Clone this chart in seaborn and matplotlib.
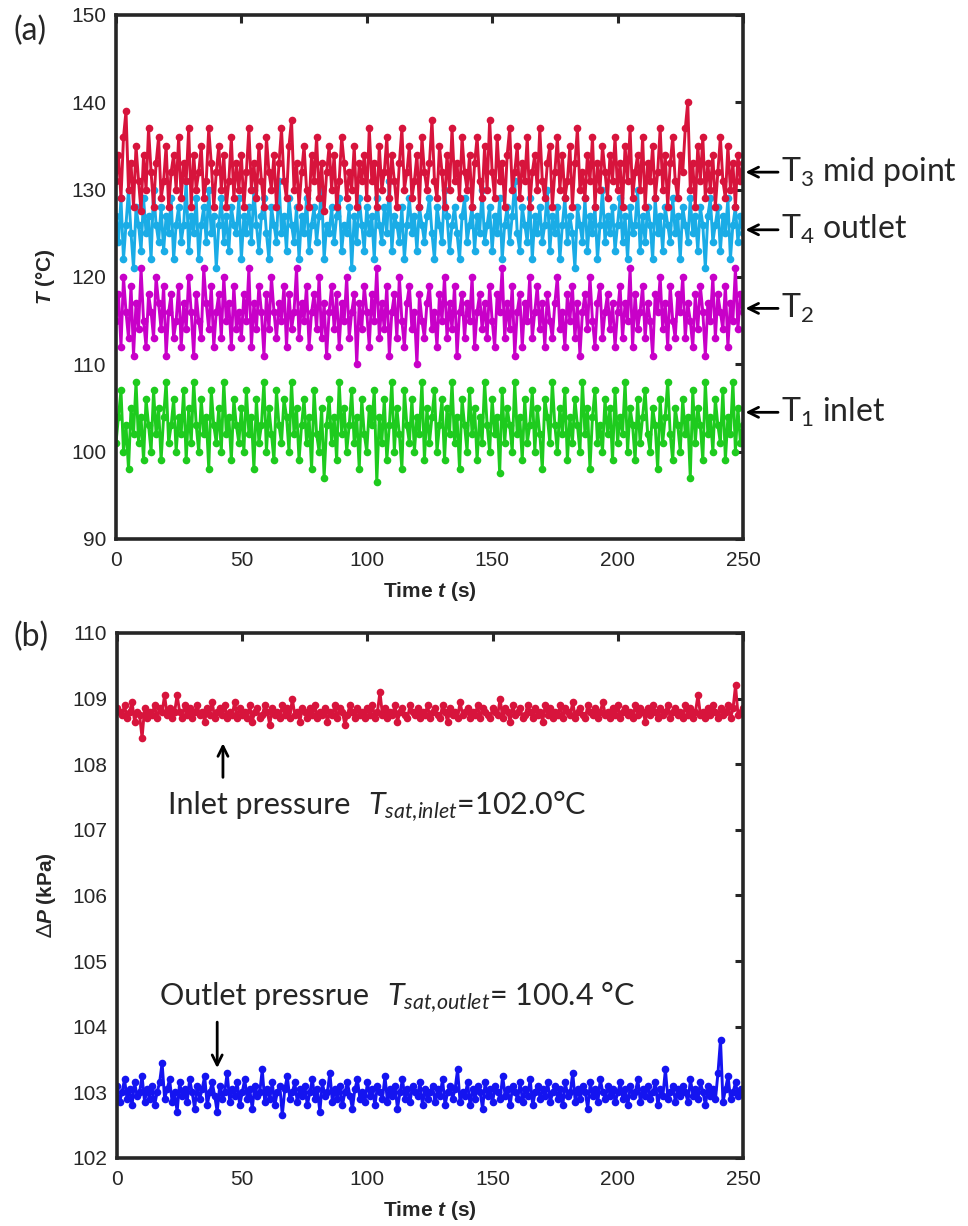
import numpy as np
import pandas as pd
import seaborn as sns
import matplotlib.pyplot as plt

# ---- data (1 sample per second) ----
t3_mid = [
    131, 134, 129, 136, 139, 130, 133, 128, 135, 131, 127.5, 134, 130, 137, 132, 128, 133, 136, 129, 131, 135, 128, 132, 134, 130,
    136, 129, 133, 131, 137, 128, 134, 130, 132, 135, 129, 131, 137, 133, 128, 132, 135, 130, 134, 128, 131, 136, 129, 133, 130,
    134, 128, 132, 137, 130, 133, 129, 135, 131, 128, 136, 132, 130, 134, 128, 133, 137, 131, 129, 135, 138, 130, 133, 128, 132,
    135, 130, 128, 134, 131, 136, 129, 133, 127.5, 132, 135, 130, 134, 128, 131, 136, 133, 129, 132, 130, 135, 128, 133, 131, 134,
    129, 137, 131, 133, 128, 135, 130, 132, 136, 129, 134, 131, 128, 133, 137, 130, 132, 135, 129, 131, 134, 128, 136, 132, 130,
    133, 138, 131, 129, 135, 132, 128, 134, 130, 137, 131, 133, 129, 136, 132, 130, 134, 128, 133, 136, 131, 129, 135, 130, 138,
    132, 129, 136, 131, 133, 128, 134, 137, 130, 132, 135, 129, 133, 131, 136, 128, 132, 134, 130, 137, 131, 129, 133, 135, 128,
    132, 136, 130, 134, 129, 131, 135, 128, 133, 137, 130, 132, 129, 134, 131, 136, 128, 133, 130, 135, 132, 129, 134, 131, 136,
    130, 133, 128, 135, 131, 137, 129, 132, 134, 130, 136, 128, 133, 131, 135, 129, 132, 137, 130, 134, 128, 133, 136, 131, 129,
    134, 132, 137, 140, 130, 133, 128, 135, 131, 136, 129, 133, 130, 134, 128, 132, 136, 131, 129, 135, 130, 133, 128, 134, 131,
    133,
]
t4_outlet = [
    127, 124, 129, 122, 126, 130, 125, 121, 128, 126, 123, 129, 125, 127, 122, 130, 126, 124, 128, 123, 127, 125, 129, 122, 126,
    128, 124, 126, 131, 123, 127, 125, 129, 122, 126, 128, 124, 130, 125, 127, 121, 126, 129, 124, 127, 123, 128, 126, 125, 129,
    122, 127, 125, 128, 124, 130, 126, 123, 127, 129, 125, 122, 128, 126, 124, 131, 125, 127, 123, 129, 126, 124, 128, 122, 127,
    125, 129, 123, 126, 128, 124, 127, 130, 122, 126, 125, 128, 124, 127, 129, 123, 126, 125, 128, 121, 127, 124, 129, 126, 123,
    128, 125, 127, 122, 129, 126, 124, 128, 125, 131, 123, 127, 126, 124, 128, 122, 126, 129, 125, 127, 123, 128, 126, 124, 127,
    129, 125, 122, 128, 126, 124, 130, 127, 123, 126, 128, 125, 122, 127, 129, 124, 126, 128, 123, 127, 125, 130, 124, 126, 128,
    123, 127, 125, 129, 122, 126, 128, 124, 127, 131, 125, 123, 128, 126, 124, 129, 122, 127, 125, 128, 124, 126, 130, 123, 127,
    125, 128, 122, 126, 129, 124, 127, 125, 121, 128, 126, 124, 129, 123, 127, 125, 128, 122, 126, 130, 124, 127, 125, 128, 123,
    126, 129, 124, 127, 122, 128, 125, 126, 130, 123, 127, 124, 128, 126, 122, 129, 125, 127, 123, 128, 126, 124, 129, 125, 127,
    122, 128, 126, 124, 129, 125, 127, 123, 128, 126, 121, 127, 129, 124, 126, 128, 123, 127, 125, 129, 122, 126, 128, 124, 127,
    125,
]
t2 = [
    115, 118, 112, 120, 116, 113, 119, 111, 117, 114, 121, 115, 112, 118, 116, 113, 120, 117, 114, 119, 111, 116, 118, 113, 115,
    119, 112, 117, 114, 120, 116, 111, 118, 115, 113, 121, 117, 114, 119, 112, 116, 118, 113, 120, 115, 117, 112, 119, 114, 116,
    113, 118, 115, 121, 112, 117, 114, 119, 116, 111, 118, 114, 120, 116, 113, 117, 115, 119, 112, 118, 114, 116, 121, 113, 117,
    115, 119, 112, 116, 118, 114, 120, 113, 117, 111, 116, 119, 114, 118, 112, 117, 115, 120, 113, 116, 118, 110, 117, 114, 119,
    116, 112, 118, 115, 121, 113, 117, 114, 119, 111, 116, 118, 113, 120, 115, 112, 117, 119, 114, 116, 110, 118, 115, 113, 117,
    119, 114, 116, 112, 118, 115, 120, 113, 117, 114, 119, 111, 116, 118, 113, 117, 115, 120, 112, 116, 118, 114, 117, 113, 119,
    115, 112, 118, 116, 121, 113, 117, 114, 119, 111, 116, 118, 112, 117, 115, 120, 113, 116, 119, 114, 117, 112, 118, 115, 113,
    117, 120, 114, 116, 112, 118, 115, 119, 113, 117, 111, 116, 118, 114, 120, 115, 112, 117, 119, 113, 116, 118, 114, 117, 112,
    116, 119, 113, 117, 115, 121, 112, 118, 114, 116, 119, 113, 117, 115, 111, 118, 116, 120, 114, 117, 112, 119, 115, 113, 118,
    116, 120, 113, 117, 115, 112, 118, 114, 119, 116, 111, 117, 115, 120, 113, 118, 116, 114, 119, 112, 117, 115, 121, 114, 118,
    116,
]
t1_inlet = [
    101, 104, 107, 100, 103, 98, 105, 102, 108, 101, 104, 99, 106, 103, 100, 107, 102, 105, 99, 104, 108, 101, 103, 106, 100,
    104, 102, 107, 99, 105, 101, 108, 103, 100, 106, 102, 104, 98, 107, 103, 101, 105, 100, 108, 102, 104, 99, 106, 103, 101,
    105, 100, 107, 102, 104, 98, 106, 101, 103, 108, 100, 105, 102, 99, 107, 103, 101, 106, 104, 100, 108, 102, 105, 99, 103,
    106, 101, 104, 98, 107, 102, 100, 105, 97, 103, 106, 101, 104, 99, 108, 102, 105, 100, 103, 107, 101, 104, 98, 106, 102,
    100, 105, 103, 107, 96.5, 104, 101, 106, 99, 103, 108, 100, 105, 102, 98, 107, 103, 101, 106, 100, 104, 102, 108, 99, 105,
    101, 104, 107, 100, 103, 106, 99, 105, 102, 108, 101, 104, 98, 106, 103, 100, 107, 102, 105, 99, 104, 101, 108, 103, 100,
    106, 102, 104, 97.5, 107, 101, 105, 103, 100, 108, 102, 104, 99, 106, 101, 103, 107, 100, 105, 102, 98, 106, 104, 101, 108,
    103, 100, 105, 102, 107, 99, 104, 101, 106, 103, 100, 108, 102, 105, 98, 104, 107, 101, 103, 100, 106, 102, 105, 99, 107,
    101, 104, 102, 108, 100, 105, 103, 99, 106, 101, 104, 107, 102, 100, 105, 103, 98, 106, 101, 104, 108, 102, 99, 105, 103,
    100, 106, 102, 104, 97, 107, 101, 105, 103, 99, 108, 102, 104, 100, 106, 103, 101, 107, 99, 104, 102, 108, 100, 105, 101,
    103,
]
p_inlet = [
    108.85, 108.80, 108.75, 108.90, 108.70, 108.80, 108.95, 108.65, 108.80, 108.75, 108.40, 108.85, 108.70, 108.80, 108.75, 108.90, 108.70, 108.85, 108.80, 109.05, 108.75, 108.85, 108.70, 108.80, 109.05,
    108.80, 108.70, 108.90, 108.75, 108.85, 108.70, 108.80, 108.90, 108.75, 108.80, 108.65, 108.85, 108.75, 108.95, 108.70, 108.80, 108.85, 108.75, 108.90, 108.70, 108.80, 108.75, 108.95, 108.70, 108.85,
    108.75, 108.80, 108.70, 108.90, 108.65, 108.80, 108.85, 108.70, 108.75, 108.90, 108.80, 108.60, 108.85, 108.75, 108.80, 108.70, 108.90, 108.75, 108.85, 108.70, 109.00, 108.75, 108.80, 108.65, 108.85,
    108.80, 108.70, 108.85, 108.75, 108.90, 108.70, 108.80, 108.75, 108.85, 108.65, 108.80, 108.75, 108.90, 108.70, 108.85, 108.80, 108.60, 108.75, 108.90, 108.80, 108.70, 108.85, 108.75, 108.80, 108.70,
    108.85, 108.75, 108.90, 108.70, 108.80, 109.10, 108.75, 108.85, 108.70, 108.80, 108.75, 108.90, 108.65, 108.80, 108.85, 108.75, 108.70, 108.90, 108.80, 108.75, 108.85, 108.70, 108.80, 108.75, 108.90,
    108.70, 108.80, 108.85, 108.75, 108.70, 108.90, 108.80, 108.65, 108.85, 108.75, 108.80, 108.70, 108.95, 108.75, 108.80, 108.85, 108.70, 108.80, 108.75, 108.90, 108.70, 108.85, 108.80, 108.75, 108.70,
    108.85, 108.80, 108.75, 109.00, 108.70, 108.85, 108.80, 108.65, 108.90, 108.75, 108.80, 108.85, 108.70, 108.75, 108.90, 108.80, 108.70, 108.85, 108.75, 108.80, 108.65, 108.90, 108.75, 108.85, 108.70,
    108.80, 108.75, 108.90, 108.70, 108.85, 108.80, 108.75, 108.95, 108.70, 108.80, 108.85, 108.75, 108.70, 108.90, 108.80, 108.75, 108.85, 108.70, 108.80, 108.95, 108.75, 108.80, 108.70, 108.85, 108.75,
    108.90, 108.70, 108.80, 108.85, 108.75, 108.80, 108.70, 108.90, 108.75, 108.85, 108.80, 108.65, 108.85, 108.75, 108.90, 108.80, 108.70, 108.85, 108.75, 108.80, 108.90, 108.70, 108.80, 108.85, 108.75,
    108.80, 108.70, 108.90, 108.75, 108.85, 108.70, 108.80, 109.05, 108.75, 108.80, 108.70, 108.85, 108.75, 108.90, 108.80, 108.70, 108.85, 108.75, 108.80, 108.90, 108.70, 108.85, 109.20, 108.75, 108.80,
    108.85,
]
p_outlet = [
    103.10, 102.85, 103.00, 103.20, 102.90, 103.05, 102.80, 103.15, 102.95, 103.00, 103.25, 102.85, 103.05, 102.90, 103.10, 102.80, 103.00, 103.15, 103.45, 102.90, 103.05, 103.20, 102.85, 103.00, 102.70,
    103.15, 102.95, 103.05, 102.85, 103.20, 103.00, 102.75, 103.10, 102.90, 103.05, 103.25, 102.80, 103.00, 103.15, 102.95, 102.70, 103.10, 102.90, 103.00, 103.30, 102.85, 103.05, 102.95, 103.15, 102.80,
    103.00, 103.20, 102.90, 103.05, 102.75, 103.10, 102.95, 103.00, 103.35, 102.85, 103.05, 102.90, 103.15, 102.80, 103.00, 103.10, 102.65, 103.05, 103.25, 102.90, 103.00, 103.15, 102.85, 103.05, 102.95,
    103.10, 102.80, 103.00, 103.20, 102.90, 103.05, 102.70, 103.15, 102.95, 103.00, 103.30, 102.85, 103.05, 102.90, 103.10, 102.80, 103.00, 103.15, 102.95, 102.75, 103.05, 103.20, 102.90, 103.00, 102.85,
    103.15, 102.95, 103.05, 102.80, 103.10, 103.00, 102.90, 103.25, 102.85, 103.05, 102.95, 103.10, 102.75, 103.00, 103.20, 102.90, 103.05, 102.85, 103.10, 103.00, 102.95, 103.15, 102.80, 103.05, 102.90,
    103.00, 103.10, 102.85, 103.05, 102.95, 103.20, 102.80, 103.00, 103.10, 102.90, 103.05, 103.35, 102.85, 103.00, 102.95, 103.15, 102.80, 103.05, 102.90, 103.10, 103.00, 102.75, 103.15, 102.95, 103.05,
    102.85, 103.10, 103.00, 102.90, 103.25, 102.95, 103.05, 102.80, 103.10, 103.00, 102.90, 103.15, 102.85, 103.05, 102.95, 103.20, 102.80, 103.00, 103.10, 102.90, 103.05, 102.95, 103.15, 102.85, 103.00,
    103.10, 102.90, 103.05, 102.80, 103.15, 102.95, 103.00, 103.30, 102.85, 103.05, 102.90, 103.10, 103.00, 102.75, 103.15, 102.95, 103.05, 102.85, 103.20, 103.00, 102.90, 103.10, 102.95, 103.05, 102.85,
    103.00, 103.15, 102.90, 103.05, 102.80, 103.10, 102.95, 103.00, 103.20, 102.85, 103.05, 102.95, 103.10, 102.90, 103.00, 103.15, 102.80, 103.05, 102.95, 103.35, 102.90, 103.00, 103.10, 102.85, 103.05,
    102.95, 103.10, 103.00, 102.85, 103.20, 102.95, 103.05, 102.90, 103.15, 103.00, 102.80, 103.10, 102.95, 103.05, 102.90, 103.30, 103.80, 102.85, 103.05, 103.25, 102.90, 103.00, 103.15, 102.95, 103.05,
    103.00,
]

temp_series = [  # (values, colour) in drawing order
    (t1_inlet, "#1ECB1E"),
    (t4_outlet, "#1AACE6"),
    (t2, "#C800C8"),
    (t3_mid, "#D7143C"),
]
temp_labels = [("T$_3$ mid point", 132.0), ("T$_4$ outlet", 125.4),
               ("T$_2$", 116.4), ("T$_1$ inlet", 104.5)]
press_series = [(p_inlet, "#D7143C"), (p_outlet, "#1414F0")]

sns.set_style("white")
plt.rcParams["font.family"] = ["Liberation Sans", "DejaVu Sans"]
plt.rcParams["mathtext.fontset"] = "custom"
plt.rcParams["mathtext.rm"] = "Lato"
plt.rcParams["mathtext.it"] = "Lato:italic"
plt.rcParams["mathtext.bf"] = "Liberation Sans:bold"
plt.rcParams["mathtext.bfit"] = "Liberation Sans:bold:italic"

ink = "#262626"
fig = plt.figure(figsize=(9.68, 12.26), dpi=100)
ax1 = fig.add_axes([0.1198, 0.5604, 0.6477, 0.4274])
ax2 = fig.add_axes([0.1209, 0.0555, 0.6467, 0.4282])


def draw(ax, series):
    for vals, col in series:
        df = pd.DataFrame({"t": np.arange(len(vals)), "v": vals})
        sns.lineplot(data=df, x="t", y="v", ax=ax, color=col, linewidth=2.1,
                     marker="o", markersize=5.5, markeredgewidth=0, sort=False)


def style(ax):
    ax.set_xlim(0, 250)
    ax.set_xticks(range(0, 251, 50))
    for s in ax.spines.values():
        s.set_linewidth(2.6)
        s.set_color(ink)
        s.set_visible(True)
    ax.tick_params(direction="in", top=True, right=True, length=6, width=2.2,
                   color=ink, labelcolor=ink, labelsize=15)
    ax.tick_params(axis="x", pad=9)
    ax.tick_params(axis="y", pad=7)
    ax.set_xlabel(r"Time $\mathbfit{t}$ (s)", fontsize=15, fontweight="bold",
                  color=ink, labelpad=7)


draw(ax1, temp_series)
style(ax1)
ax1.set_ylim(90, 150)
ax1.set_ylabel(r"$\mathbfit{T}$ ($\mathbf{°}$C)", fontsize=15, fontweight="bold",
               color=ink, labelpad=10)

for lab, y in temp_labels:
    ax1.annotate("", xy=(251, y), xytext=(264, y), annotation_clip=False,
                 arrowprops=dict(arrowstyle="->", lw=2, color="black",
                                 shrinkA=0, shrinkB=0, mutation_scale=18))
    ax1.text(265.3, y, lab, fontsize=23, family="Lato", va="center",
             ha="left", clip_on=False)

draw(ax2, press_series)
style(ax2)
ax2.set_ylim(102, 110)
ax2.set_ylabel(r"$\Delta\mathbfit{P}$ (kPa)", fontsize=15, fontweight="bold",
               color=ink, labelpad=10)

ax2.annotate("", xy=(42.3, 108.32), xytext=(42.3, 107.80),
             arrowprops=dict(arrowstyle="->", lw=2, color="black",
                             shrinkA=0, shrinkB=0, mutation_scale=18))
ax2.text(20.4, 107.24, "Inlet pressure", fontsize=22, family="Lato", va="baseline")
ax2.text(100.2, 107.24, r"$T_{sat,\!inlet}$=102.0°C", fontsize=22, family="Lato",
         va="baseline")
ax2.annotate("", xy=(40, 103.37), xytext=(40, 104.07),
             arrowprops=dict(arrowstyle="->", lw=2, color="black",
                             shrinkA=0, shrinkB=0, mutation_scale=18))
ax2.text(17.2, 104.33, "Outlet pressrue", fontsize=22, family="Lato", va="baseline")
ax2.text(107.8, 104.33, r"$T_{sat,\!outlet}$= 100.4 °C", fontsize=22, family="Lato",
         va="baseline")

fig.text(30 / 968, 1 - 31 / 1226, "(a)", fontsize=23, family="Lato",
         ha="center", va="center")
fig.text(31 / 968, 1 - 637 / 1226, "(b)", fontsize=23, family="Lato",
         ha="center", va="center")

fig.savefig("out.png", dpi=100)
